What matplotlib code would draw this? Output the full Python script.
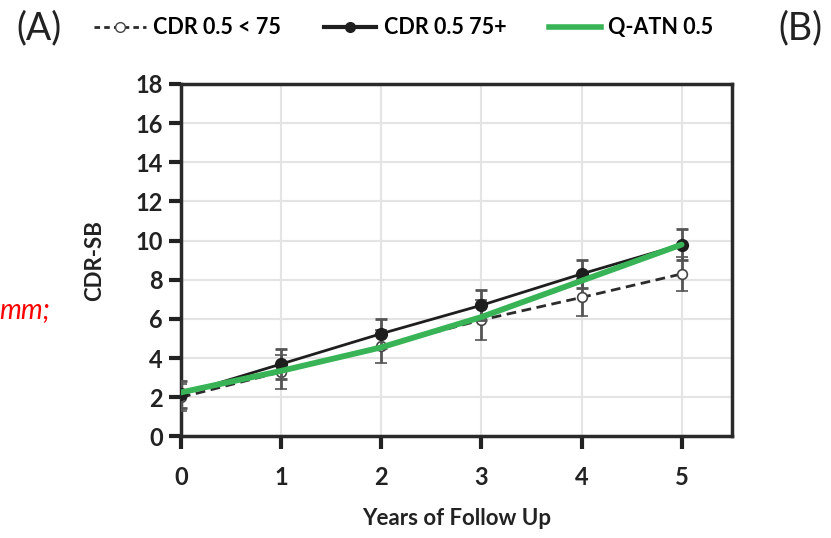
import numpy as np
import matplotlib
matplotlib.use("Agg")
import matplotlib.pyplot as plt
from matplotlib.lines import Line2D

# CDR-SB trajectories over follow up
years = [0, 1, 2, 3, 4, 5]
young_mean = [2.0, 3.3, 4.6, 5.95, 7.1, 8.3]     # CDR 0.5 < 75
young_err = [0.7, 0.85, 0.85, 1.0, 0.95, 0.85]
old_mean = [2.15, 3.7, 5.25, 6.7, 8.3, 9.8]      # CDR 0.5 75+
old_err = [0.7, 0.75, 0.75, 0.77, 0.7, 0.77]
qatn_mean = [2.25, 3.35, 4.55, 6.1, 7.95, 9.8]   # Q-ATN 0.5

legend_labels = ["CDR 0.5 < 75", "CDR 0.5 75+", "Q-ATN 0.5"]
green = "#38b457"

plt.rcParams['font.family'] = ['Lato', 'DejaVu Sans']

fig = plt.figure(figsize=(8.31, 5.38), dpi=100)
ax = fig.add_axes([0.2178, 0.1887, 0.6627, 0.6552])

ax.errorbar(years, young_mean, yerr=young_err, color="#2b2b2b", ls=(0, (3.5, 2)),
            lw=2, marker="o", ms=7, mfc="white", mec="#444444", mew=1.2,
            ecolor="#555555", elinewidth=2, capsize=4, capthick=2, zorder=3)
ax.errorbar(years, old_mean, yerr=old_err, color="#1e1e1e", lw=2,
            marker="o", ms=8.5, mfc="#1e1e1e", mec="#1e1e1e",
            ecolor="#555555", elinewidth=2, capsize=4, capthick=2, zorder=4)
ax.plot(years, qatn_mean, color=green, lw=4.2, solid_capstyle="round", zorder=5)

ax.set_xlim(0, 5.5)
ax.set_ylim(0, 18)
ax.set_xticks(years)
ax.set_yticks(np.arange(0, 19, 2))
ax.grid(True, color="#e4e4e4", lw=1.5)
ax.set_axisbelow(True)
for s in ax.spines.values():
    s.set_linewidth(2.5)
    s.set_color("#2a2a2a")
ax.tick_params(axis="both", direction="out", length=9, width=3, color="#222222",
               labelsize=17, pad=4)
for lab in ax.get_xticklabels() + ax.get_yticklabels():
    lab.set_fontweight("bold")
    lab.set_color("#222222")
ax.tick_params(axis="x", pad=12)

ax.set_xlabel("Years of Follow Up", fontsize=16, fontweight="bold", color="#222222", labelpad=14)
ax.set_ylabel("CDR-SB", fontsize=16, fontweight="bold", color="#222222", labelpad=22)

handles = [
    Line2D([], [], color="#2b2b2b", ls=(0, (2, 1.5)), lw=2, marker="o", ms=7,
           mfc="white", mec="#444444"),
    Line2D([], [], color="#1e1e1e", lw=3, marker="o", ms=7),
    Line2D([], [], color=green, lw=4),
]
fig.legend(handles, legend_labels, loc="center", bbox_to_anchor=(0.486, 0.948), ncol=3,
           frameon=False, handlelength=2.4, handletextpad=0.35, columnspacing=2.0,
           prop={"weight": "bold", "size": 15.5})

fig.text(0.020, 0.948, "(A)", fontsize=27, color="#222222", va="center")
fig.text(0.937, 0.948, "(B)", fontsize=27, color="#222222", va="center")
fig.text(0.060, 0.423, "mm;", fontsize=20, color="red", style="italic",
         ha="right", va="center")

fig.savefig("out.png", dpi=100)
